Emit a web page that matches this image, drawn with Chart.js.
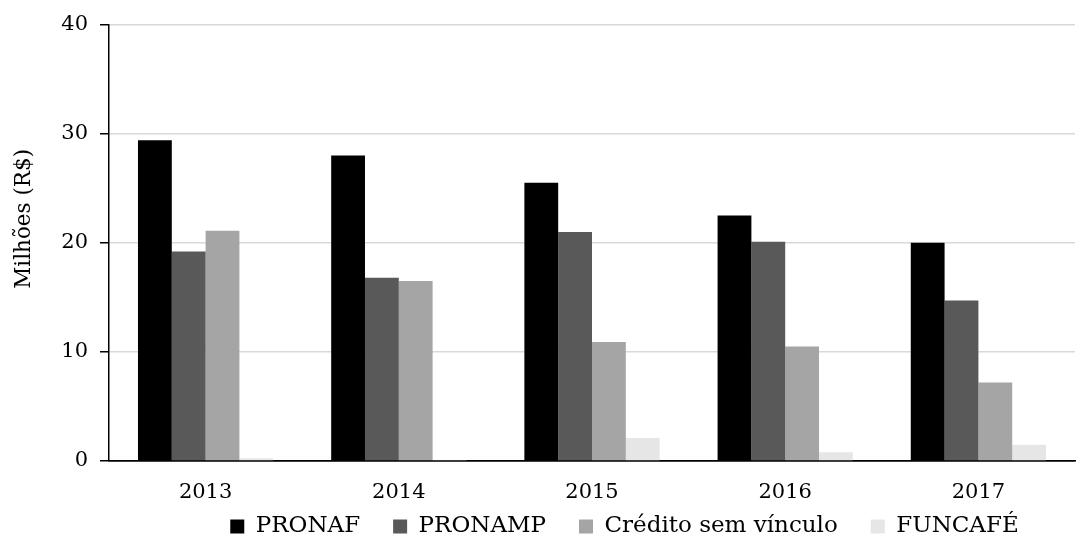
<!DOCTYPE html>
<html lang="pt-BR">
<head>
<meta charset="utf-8">
<title>Crédito rural por linha – 2013 a 2017</title>
<script src="https://cdn.jsdelivr.net/npm/chart.js@4/dist/chart.umd.min.js"></script>
<style>
  html, body { margin: 0; padding: 0; background: #ffffff; }
  #wrap { width: 1078px; height: 537px; }
</style>
</head>
<body>
<div id="wrap"><canvas id="chart" width="1078" height="537"></canvas></div>
<script>
// Anos
const years = ['2013', '2014', '2015', '2016', '2017'];

// Valores por linha de crédito, em milhões de R$
const pronaf   = [29.4, 28.0, 25.5, 22.5, 20.0];
const pronamp  = [19.2, 16.8, 21.0, 20.1, 14.7];
const credito  = [21.1, 16.5, 10.9, 10.5, 7.2];
const funcafe  = [0.25, 0.1, 2.1, 0.8, 1.5];

// Eixo vertical
const yTicks = [0, 10, 20, 30, 40];
const yTitle = 'Milhões (R$)';

const FONT = '"DejaVu Serif", "Liberation Serif", serif';

// Título do eixo Y desenhado à mão, um pouco acima do centro da área do gráfico
const axisTitle = {
  id: 'axisTitle',
  afterDraw(chart, args, opts) {
    const { ctx, chartArea } = chart;
    ctx.save();
    ctx.translate(opts.x, (chartArea.top + chartArea.bottom) / 2 + opts.shift);
    ctx.rotate(-Math.PI / 2);
    ctx.font = opts.size + 'px ' + FONT;
    ctx.fillStyle = '#000';
    ctx.textAlign = 'center';
    ctx.textBaseline = 'middle';
    ctx.fillText(opts.text, 0, 0);
    ctx.restore();
  }
};

// Desloca a legenda depois do layout (o fundo da caixa continua na borda do canvas)
const legendNudge = {
  id: 'legendNudge',
  afterLayout(chart, args, opts) {
    const lg = chart.legend;
    if (!lg) return;
    lg.left += opts.dx; lg.right += opts.dx;
    lg.top += opts.dy;
  }
};

const series = [
  { label: 'PRONAF',              data: pronaf,  color: '#000000' },
  { label: 'PRONAMP',             data: pronamp, color: '#595959' },
  { label: 'Crédito sem vínculo', data: credito, color: '#a5a5a5' },
  { label: 'FUNCAFÉ',             data: funcafe, color: '#e6e6e6' }
];

new Chart(document.getElementById('chart'), {
  type: 'bar',
  data: {
    labels: years,
    datasets: series.map(s => ({
      label: s.label,
      data: s.data,
      backgroundColor: s.color,
      borderWidth: 0,
      categoryPercentage: 0.7,
      barPercentage: 1.0
    }))
  },
  options: {
    responsive: false,
    animation: false,
    devicePixelRatio: 1,
    layout: { padding: { top: 22, right: 3, bottom: 0, left: 0 } },
    scales: {
      x: {
        grid: { display: false, drawTicks: false, tickLength: 0 },
        border: { display: true, color: '#000', width: 1.5 },
        ticks: { color: '#000', padding: 19, font: { family: FONT, size: 21 } },
        afterFit(scale) { scale.height = 48; }
      },
      y: {
        min: 0,
        max: 40,
        afterBuildTicks(scale) { scale.ticks = yTicks.map(v => ({ value: v })); },
        grid: {
          color: ctx => (ctx.tick && ctx.tick.value === 0) ? '#000' : '#d9d9d9',
          lineWidth: 1.5,
          drawTicks: true,
          tickLength: 9,
          tickColor: '#000',
          tickWidth: 1.5
        },
        border: { display: true, color: '#000', width: 1.5 },
        ticks: { color: '#000', padding: 12, font: { family: FONT, size: 21 } },
        afterFit(scale) { scale.width = 109; }
      }
    },
    plugins: {
      legend: {
        position: 'bottom',
        align: 'center',
        maxHeight: 28,
        labels: {
          boxWidth: 14,
          boxHeight: 14,
          padding: 33,
          color: '#000',
          font: { family: FONT, size: 23 }
        }
      },
      tooltip: { enabled: false },
      axisTitle: { text: yTitle, x: 24, shift: -24, size: 21.5 },
      legendNudge: { dx: 87, dy: -27 }
    }
  },
  plugins: [axisTitle, legendNudge]
});
</script>
</body>
</html>
